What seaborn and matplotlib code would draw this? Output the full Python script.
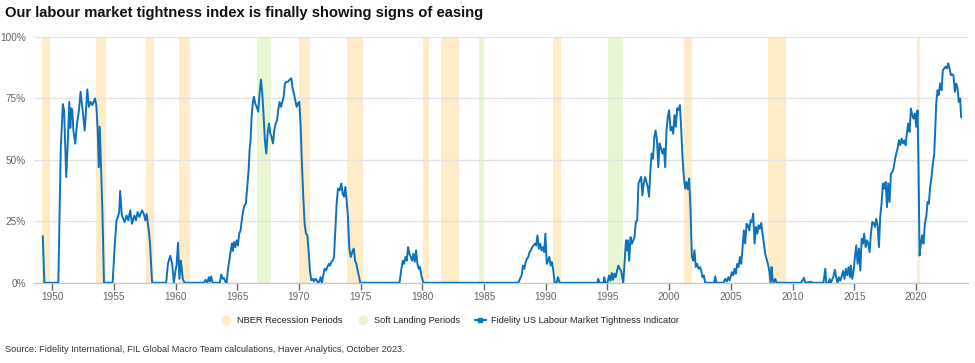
import matplotlib
matplotlib.use("Agg")
import matplotlib.pyplot as plt
from matplotlib.lines import Line2D
from matplotlib.ticker import FuncFormatter
import seaborn as sns
import pandas as pd

# --- data (year, % tightness), split by episode ---
yrs_a = [1949.24, 1949.37, 1950.5, 1950.7, 1950.87, 1950.97, 1951.14, 1951.25, 1951.39, 1951.47,
         1951.56, 1951.64, 1951.72, 1951.87, 1952.03, 1952.17, 1952.3, 1952.44, 1952.64, 1952.85,
         1952.98, 1953.12, 1953.26, 1953.47, 1953.58, 1953.69, 1953.78, 1953.86, 1953.97, 1954.08,
         1954.2, 1954.9, 1955.08, 1955.22, 1955.33, 1955.43, 1955.51, 1955.65, 1955.76, 1955.87,
         1956.03, 1956.17, 1956.33, 1956.47, 1956.66, 1956.79, 1956.93, 1957.07, 1957.28, 1957.42,
         1957.55, 1957.66, 1957.83, 1957.93, 1958.1, 1959.24, 1959.38, 1959.57, 1959.73, 1959.86,
         1960.0, 1960.08, 1960.2, 1960.31, 1960.42, 1960.5, 1960.58, 1960.73]
vals_a = [19.0, 0, 0, 55, 72.7, 70, 43, 55, 73.6, 63,
          71, 70, 62, 56.6, 65.5, 70, 77.7, 71.6, 62, 78.7,
          71.6, 73.6, 72.3, 75, 72.3, 62, 47, 63.5, 45.8, 28,
          0, 0, 16, 25.4, 26.8, 28.8, 37.4, 27.4, 26, 24.7,
          27.4, 25.4, 29.5, 24, 27.4, 25.4, 28.8, 26.8, 29.5, 28.1,
          25.4, 28, 21.3, 16, 0, 0, 7.7, 11, 7.7, 0,
          5, 7, 16.3, 1.6, 9, 6, 1.6, 0]

yrs_b = [1962.3, 1962.43, 1962.57, 1962.7, 1962.78, 1962.89, 1963.0, 1963.59, 1963.7, 1963.81,
         1963.92, 1964.03, 1964.14, 1964.24, 1964.35, 1964.46, 1964.57, 1964.65, 1964.73, 1964.84,
         1964.95, 1965.05, 1965.16, 1965.27, 1965.4, 1965.49, 1965.59, 1965.7, 1965.81, 1965.92,
         1966.0, 1966.08, 1966.16, 1966.27, 1966.35, 1966.46, 1966.57, 1966.7, 1966.81, 1966.92,
         1967.03, 1967.14, 1967.24, 1967.35, 1967.46, 1967.57, 1967.68, 1967.78, 1967.89, 1968.0,
         1968.11, 1968.22, 1968.32, 1968.43, 1968.54, 1968.65, 1968.76, 1968.86, 1968.97, 1969.11,
         1969.22, 1969.38, 1969.49, 1969.59, 1969.7, 1969.81, 1969.92, 1970.03, 1970.14, 1970.24,
         1970.35, 1970.46, 1970.57, 1970.68, 1970.78, 1970.89, 1971.0, 1971.11, 1971.22, 1971.32,
         1971.43, 1971.54, 1971.65, 1971.76, 1971.86, 1971.97, 1972.08, 1972.19, 1972.3, 1972.41,
         1972.51, 1972.62, 1972.73, 1972.84, 1972.95, 1973.05, 1973.16, 1973.3, 1973.43, 1973.54,
         1973.65, 1973.76, 1973.86, 1973.97, 1974.08, 1974.2, 1974.32, 1974.44, 1974.55, 1974.65,
         1974.76, 1974.87, 1974.97]
vals_b = [0, 1.2, 0, 2.3, 0.5, 2.6, 0, 0, 3.4, 1.6,
          2.0, 0.5, 0, 5, 9, 12.5, 16, 13, 16.6, 14.5,
          17.3, 15.2, 20, 21.3, 26.8, 29.5, 31.5, 32.2, 39, 45.8,
          54, 58, 67.5, 73.6, 75.7, 73, 71.6, 69.6, 77, 82.7,
          77, 67.5, 58, 52.6, 60.7, 64.8, 60.7, 59.4, 56.7, 62,
          64.8, 66, 70.2, 73.6, 71.6, 73.6, 75.7, 81, 81.8, 81.8,
          82.5, 83.2, 79, 77, 74.3, 71.6, 73, 73.6, 63.5, 48.5,
          35, 24, 20, 19.3, 13, 5, 1, 1.6, 0.5, 1.6,
          1.2, 0, 0.5, 2.3, 0, 3, 5.7, 5, 6.4, 7.7,
          7, 8.4, 9, 10.5, 21.3, 32, 38.3, 37.6, 40.4, 36.3,
          35, 39, 33.6, 27, 14, 10.5, 12.5, 13.9, 9, 7.7,
          5, 2.3, 0]

yrs_c = [1978.15, 1978.28, 1978.42, 1978.52, 1978.63, 1978.74, 1978.84, 1978.95, 1979.06, 1979.17,
         1979.27, 1979.38, 1979.49, 1979.6, 1979.7, 1979.81, 1979.92, 1980.08]
vals_c = [0, 5, 9, 7.7, 10.5, 9, 14.5, 11.8, 10.5, 9,
          11.8, 8.5, 13.2, 7.7, 5.7, 6.4, 3, 0]

yrs_d = [1987.78, 1987.91, 1988.04, 1988.15, 1988.26, 1988.37, 1988.48, 1988.58, 1988.69, 1988.8,
         1988.9, 1989.01, 1989.12, 1989.22, 1989.33, 1989.44, 1989.55, 1989.65, 1989.76, 1989.87,
         1989.97, 1990.08, 1990.19, 1990.29, 1990.4, 1990.5, 1990.61, 1990.72, 1990.88, 1990.99,
         1991.12]
vals_d = [0, 1.6, 3, 7, 5.7, 8.4, 9.8, 10.5, 12.5, 13.2,
          14.5, 15.2, 15.9, 15.2, 19.3, 13.9, 15.9, 13.2, 14.5, 12.5,
          20, 7.7, 9, 10.5, 7, 8.4, 5, 0, 0, 2.3,
          0]

yrs_e = [1994.2, 1994.25, 1994.36, 1994.68, 1994.73, 1994.84, 1995.0, 1995.13, 1995.24, 1995.35,
         1995.45, 1995.56, 1995.67, 1995.78, 1995.88, 1995.99, 1996.1, 1996.2, 1996.28, 1996.39,
         1996.5, 1996.58, 1996.66, 1996.76, 1996.87, 1996.98, 1997.09, 1997.19, 1997.3, 1997.41,
         1997.51, 1997.62, 1997.73, 1997.83, 1997.94, 1998.05, 1998.16, 1998.26, 1998.37, 1998.48,
         1998.58, 1998.69, 1998.8, 1998.9, 1999.01, 1999.12, 1999.22, 1999.35, 1999.46, 1999.57,
         1999.68, 1999.78, 1999.89, 2000.0, 2000.11, 2000.22, 2000.33, 2000.43, 2000.54, 2000.65,
         2000.76, 2000.87, 2000.98, 2001.08, 2001.19, 2001.3, 2001.4, 2001.51, 2001.62, 2001.73,
         2001.84, 2001.95, 2002.05, 2002.16, 2002.27, 2002.38, 2002.49, 2002.6, 2002.7, 2002.81,
         2002.92, 2003.65, 2003.73, 2003.84]
vals_e = [0, 1.6, 0, 0, 2.3, 0, 0, 3, 0.8, 4,
          1.2, 3.7, 2.3, 5, 7, 5.7, 5, 2.3, 0, 9,
          17.3, 13.2, 17.3, 9, 18.6, 15.9, 17.3, 18.6, 24.7, 25.4,
          40.4, 41.7, 43.1, 35.6, 40.4, 43, 41, 39, 35, 45.8,
          52.6, 50.5, 59.4, 62, 58, 47, 56.7, 54.6, 52.6, 54.6,
          47, 62, 67.5, 70.2, 62, 63.5, 60.7, 68.2, 63.5, 71,
          70.2, 72.3, 62, 51.2, 43, 38.3, 41, 38, 42.4, 29.5,
          10.5, 9, 13.2, 6.4, 7.7, 5.7, 6.4, 5, 2.3, 3,
          0, 0, 2.6, 0]

yrs_f = [2004.4, 2004.55, 2004.67, 2004.8, 2004.9, 2005.08, 2005.19, 2005.3, 2005.4, 2005.51,
         2005.62, 2005.73, 2005.84, 2005.95, 2006.05, 2006.16, 2006.27, 2006.38, 2006.49, 2006.6,
         2006.7, 2006.81, 2006.92, 2007.03, 2007.14, 2007.24, 2007.35, 2007.46, 2007.57, 2007.68,
         2007.78, 2007.89, 2008.0, 2008.11, 2008.22, 2008.3, 2008.38, 2008.46, 2008.6, 2008.7,
         2010.7, 2010.92, 2011.03, 2011.5, 2011.6]
vals_f = [0, 1.6, 0.5, 2.3, 1, 4.3, 3, 5.7, 3.7, 7.7,
          6.4, 10.5, 7.7, 14.5, 21.3, 16, 24, 23.4, 21.3, 25.4,
          24.7, 28.1, 16, 22.7, 20, 23.4, 22, 24.3, 20, 16,
          11.8, 9.8, 7.7, 5, 0, 6.4, 1.6, 0, 1.6, 0,
          0, 2, 0, 0.4, 0]

yrs_g = [2012.5, 2012.65, 2012.73, 2012.92, 2013.0, 2013.1, 2013.3, 2013.43, 2013.53, 2013.64,
         2013.75, 2013.86, 2014.0, 2014.1, 2014.21, 2014.32, 2014.43, 2014.54, 2014.65, 2014.73,
         2014.84, 2014.95, 2015.05, 2015.16, 2015.27, 2015.38, 2015.49, 2015.6, 2015.7, 2015.8,
         2015.92, 2016.03, 2016.13, 2016.24, 2016.35, 2016.46, 2016.57, 2016.68, 2016.78, 2016.89,
         2017.0, 2017.1, 2017.21, 2017.32, 2017.43, 2017.54, 2017.65, 2017.75, 2017.86, 2017.97,
         2018.08, 2018.18, 2018.29, 2018.4, 2018.51, 2018.62, 2018.72, 2018.83, 2018.94, 2019.05,
         2019.16, 2019.26, 2019.37, 2019.48, 2019.59, 2019.7, 2019.8, 2019.91, 2020.02, 2020.13,
         2020.21, 2020.29, 2020.4, 2020.5, 2020.61, 2020.72, 2020.83, 2020.94, 2021.04, 2021.15,
         2021.26, 2021.37, 2021.48, 2021.56, 2021.64, 2021.75, 2021.85, 2021.96, 2022.07, 2022.18,
         2022.29, 2022.39, 2022.5, 2022.61, 2022.72, 2022.83, 2022.94, 2023.04, 2023.15, 2023.26,
         2023.37, 2023.47, 2023.58, 2023.66]
vals_g = [0, 5.7, 0, 0, 1.6, 0, 2.3, 5.3, 2.3, 0,
          2.3, 0.8, 3, 4.8, 1.6, 5.7, 3, 6.4, 2.3, 7,
          1.6, 5, 10.5, 15.2, 7.7, 13.9, 5, 17.9, 15.9, 20,
          14.5, 17.3, 15.9, 12.5, 20, 24.7, 24.3, 22.7, 26, 23.4,
          14.5, 26.8, 32.2, 40.4, 38.3, 41, 30.8, 40.4, 32.9, 44.4,
          45.1, 46.5, 49.9, 52.6, 54.6, 58, 56, 58.7, 56.7, 58,
          56, 60.7, 64.8, 61.4, 70.9, 68.2, 66.8, 68.9, 63.5, 70.2,
          45.8, 11.1, 15.9, 19.3, 15.9, 24, 26.8, 32.9, 32.2, 39,
          43, 48.5, 52.6, 62, 73, 78.4, 76.4, 81.1, 78.4, 86.5,
          87.2, 87.9, 87.2, 89.3, 87.2, 84.5, 84.8, 84.5, 77.7, 81.1,
          79, 73.6, 75, 67.3]

# shaded periods (start, end) in decimal years
recession_start = [1949.21, 1953.57, 1957.64, 1960.29, 1970.02, 1973.88, 1980.04, 1981.55,
                   1990.57, 2001.24, 2007.99, 2020.12]
recession_end = [1949.84, 1954.38, 1958.29, 1961.18, 1970.91, 1975.23, 1980.57, 1982.93,
                 1991.25, 2001.89, 2009.48, 2020.34]
soft_start = [1966.59, 1984.55, 1995.06]
soft_end = [1967.75, 1984.98, 1996.25]

year_ticks = [1950, 1955, 1960, 1965, 1970, 1975, 1980, 1985, 1990, 1995,
              2000, 2005, 2010, 2015, 2020]
pct_ticks = [0, 25, 50, 75, 100]

years = yrs_a + yrs_b + yrs_c + yrs_d + yrs_e + yrs_f + yrs_g
values = vals_a + vals_b + vals_c + vals_d + vals_e + vals_f + vals_g
df = pd.DataFrame({"year": years, "tightness": values})

sns.set_theme(style="white")
plt.rcParams["font.family"] = ["Liberation Sans", "DejaVu Sans"]

LINE_BLUE = "#0E72BA"
ORANGE = "#FEEBC7"
GREEN = "#E7F5D2"

fig = plt.figure(figsize=(9.75, 3.63), dpi=100)
ax = fig.add_axes([0.035, 0.221, 0.958, 0.677])

for s, e in zip(recession_start, recession_end):
    ax.axvspan(s, e, color=ORANGE, lw=0, zorder=0)
for s, e in zip(soft_start, soft_end):
    ax.axvspan(s, e, color=GREEN, lw=0, zorder=0)

for p in pct_ticks[1:]:
    ax.axhline(p, color="#e3e3e3", lw=1, zorder=1)

sns.lineplot(data=df, x="year", y="tightness", ax=ax, color=LINE_BLUE,
             lw=1.4, sort=False, zorder=3)

ax.set_xlim(1948.54, 2024.23)
ax.set_ylim(0, 100)
ax.set_xticks(year_ticks)
ax.set_yticks(pct_ticks)
ax.yaxis.set_major_formatter(FuncFormatter(lambda v, _: f"{int(v)}%"))
ax.set_xlabel("")
ax.set_ylabel("")
ax.tick_params(axis="x", colors="#666666", labelsize=7.2, length=5, width=1,
               direction="out", pad=2, bottom=True)
ax.tick_params(axis="y", colors="#666666", labelsize=7.2, length=0, pad=6)
for side in ["top", "right", "left"]:
    ax.spines[side].set_visible(False)
ax.spines["bottom"].set_color("#c8c8c8")
ax.spines["bottom"].set_linewidth(1)

fig.text(0.005, 0.965, "Our labour market tightness index is finally showing signs of easing",
         fontsize=10.6, fontweight="bold", color="#111111", ha="left", va="center")

handles = [
    Line2D([], [], marker="o", ls="none", markersize=6, markerfacecolor=ORANGE,
           markeredgecolor=ORANGE),
    Line2D([], [], marker="o", ls="none", markersize=6, markerfacecolor=GREEN,
           markeredgecolor=GREEN),
    Line2D([], [], color=LINE_BLUE, lw=1.6, marker="s", markersize=3.5),
]
labels = ["NBER Recession Periods", "Soft Landing Periods",
          "Fidelity US Labour Market Tightness Indicator"]
fig.legend(handles, labels, loc="center", bbox_to_anchor=(0.4615, 0.116), ncol=3,
           frameon=False, fontsize=6.7, handlelength=1.2, handletextpad=0.6,
           columnspacing=1.55, labelcolor="#222222")

fig.text(0.005, 0.036,
         "Source: Fidelity International, FIL Global Macro Team calculations, Haver Analytics, October 2023.",
         fontsize=6.55, color="#333333", ha="left", va="center")

fig.savefig("out.png", dpi=100)
